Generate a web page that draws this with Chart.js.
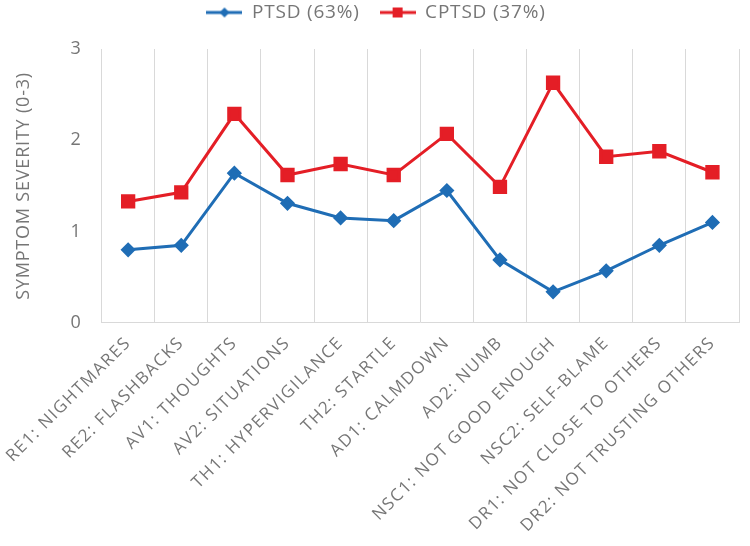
<!DOCTYPE html>
<html>
<head>
<meta charset="utf-8">
<script src="https://cdn.jsdelivr.net/npm/chart.js@4"></script>
<style>
  html, body { margin: 0; padding: 0; background: #fff; }
  #wrap { width: 750px; height: 546px; position: relative; }
</style>
</head>
<body>
<div id="wrap"><canvas id="c" width="750" height="546"></canvas></div>
<script>
const categories = [
  "RE1: NIGHTMARES", "RE2: FLASHBACKS", "AV1: THOUGHTS", "AV2: SITUATIONS",
  "TH1: HYPERVIGILANCE", "TH2: STARTLE", "AD1: CALMDOWN", "AD2: NUMB",
  "NSC1: NOT GOOD ENOUGH", "NSC2: SELF-BLAME", "DR1: NOT CLOSE TO OTHERS", "DR2: NOT TRUSTING OTHERS"
];
const ptsdValues  = [0.80, 0.85, 1.64, 1.31, 1.15, 1.12, 1.45, 0.69, 0.34, 0.57, 0.85, 1.10];
const cptsdValues = [1.33, 1.43, 2.29, 1.62, 1.74, 1.62, 2.07, 1.49, 2.63, 1.82, 1.88, 1.65];
const seriesNames = ["PTSD (63%)", "CPTSD (37%)"];
const yTicks = [0, 1, 2, 3];

const BLUE = "#1f6db5";
const RED = "#e41e26";
const TEXT = "#767676";
const FONT = "'Open Sans', Lato, sans-serif";
const BASE_SPACING = "0.8px";
const X_SPACING = "1.5px";

function legendIcon(color, shape) {
  const cv = document.createElement("canvas");
  cv.width = 36; cv.height = 14;
  const g = cv.getContext("2d");
  g.strokeStyle = color; g.lineWidth = 3;
  g.beginPath(); g.moveTo(0, 7); g.lineTo(36, 7); g.stroke();
  g.fillStyle = color;
  if (shape === "diamond") {
    g.beginPath(); g.moveTo(18, 2); g.lineTo(23, 7); g.lineTo(18, 12); g.lineTo(13, 7); g.closePath(); g.fill();
  } else {
    g.fillRect(13, 2, 10, 10);
  }
  return cv;
}
const icons = [legendIcon(BLUE, "diamond"), legendIcon(RED, "square")];

const spacingPlugin = {
  id: "spacing",
  beforeInit(chart) {
    const lg = chart.legend;
    if (lg) {
      const origFit = lg.fit.bind(lg);
      lg.fit = function () { origFit(); this.height += 17; };
    }
  },
  beforeUpdate(chart) { chart.ctx.letterSpacing = BASE_SPACING; },
  beforeDraw(chart) {
    chart.ctx.letterSpacing = BASE_SPACING;
    const s = chart.scales.x;
    if (s && !s._spacingPatched) {
      const orig = s.drawLabels.bind(s);
      s.drawLabels = function (area) {
        const c = this.ctx; const prev = c.letterSpacing;
        c.letterSpacing = X_SPACING; orig(area); c.letterSpacing = prev;
      };
      s._spacingPatched = true;
    }
  }
};

new Chart(document.getElementById("c"), {
  type: "line",
  plugins: [spacingPlugin],
  data: {
    labels: categories,
    datasets: [
      {
        label: seriesNames[0], data: ptsdValues,
        borderColor: BLUE, backgroundColor: BLUE, borderWidth: 3,
        pointStyle: "rectRot", pointRadius: 5.5, pointHoverRadius: 5.5,
        tension: 0
      },
      {
        label: seriesNames[1], data: cptsdValues,
        borderColor: RED, backgroundColor: RED, borderWidth: 3,
        pointStyle: "rect", pointRadius: 8, pointHoverRadius: 8,
        tension: 0
      }
    ]
  },
  options: {
    responsive: false,
    animation: false,
    devicePixelRatio: 1,
    layout: { padding: { top: -17, right: 2, left: 4, bottom: 0 } },
    plugins: {
      tooltip: { enabled: false },
      legend: {
        position: "top",
        labels: {
          font: { family: FONT, size: 19 },
          color: TEXT,
          usePointStyle: true,
          pointStyleWidth: 36,
          boxHeight: 14,
          padding: 20,
          generateLabels: (chart) => chart.data.datasets.map((ds, i) => ({
            text: ds.label, fillStyle: ds.borderColor, strokeStyle: ds.borderColor,
            pointStyle: icons[i], fontColor: TEXT, datasetIndex: i, hidden: false, lineWidth: 0
          }))
        }
      }
    },
    scales: {
      x: {
        offset: true,
        grid: { offset: true, color: "#d9d9d9", lineWidth: 1, drawTicks: false },
        border: { color: "#d9d9d9" },
        beforeUpdate: (s) => { s.ctx.letterSpacing = X_SPACING; },
        afterUpdate: (s) => { s.ctx.letterSpacing = BASE_SPACING; },
        afterFit: (s) => { s.paddingLeft = Math.max(0, s.paddingLeft - 5); },
        ticks: {
          font: { family: FONT, size: 17 },
          color: TEXT,
          minRotation: 45, maxRotation: 45,
          padding: 10,
          autoSkip: false
        }
      },
      y: {
        min: 0, max: 3,
        afterBuildTicks: (axis) => { axis.ticks = yTicks.map(v => ({ value: v })); },
        grid: { display: false, drawTicks: false },
        border: { display: false },
        title: {
          display: true, text: "SYMPTOM SEVERITY (0-3)",
          font: { family: FONT, size: 18 }, color: TEXT, padding: { bottom: 16 }
        },
        ticks: {
          font: { family: FONT, size: 18 }, color: TEXT, padding: 20
        }
      }
    }
  }
});
</script>
</body>
</html>
